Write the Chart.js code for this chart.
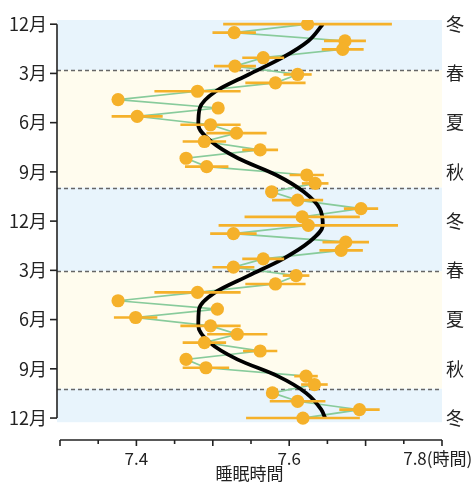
<!DOCTYPE html>
<html><head><meta charset="utf-8">
<script src="https://cdn.jsdelivr.net/npm/chart.js@4"></script>
<style>html,body{margin:0;padding:0;background:#fff}#wrap{width:473px;height:482px}canvas{display:block}</style>
</head><body>
<div id="wrap"><canvas id="c" width="473" height="482"></canvas></div>
<script>
// ---------- data ----------
const monthLabels  = ['12月','3月','6月','9月','12月','3月','6月','9月','12月'];
const seasonLabels = ['冬','春','夏','秋','冬','春','夏','秋','冬'];
// semi-monthly mean sleep time (hours), two consecutive years
const year1Sleep = [7.624,7.528,7.673,7.670,7.566,7.529,7.611,7.582,7.480,7.376,7.507,7.401,
                    7.497,7.531,7.489,7.562,7.465,7.492,7.623,7.634,7.577,7.611,7.694,7.617];
const year2Sleep = [7.625,7.527,7.674,7.668,7.566,7.527,7.609,7.582,7.480,7.376,7.506,7.399,
                    7.497,7.532,7.489,7.562,7.465,7.491,7.622,7.633,7.578,7.611,7.692,7.618];
const year1Err = [0.110,0.028,0.027,0.027,0.027,0.027,0.018,0.039,0.056,0.005,0.005,0.033,
                  0.039,0.039,0.028,0.023,0.005,0.028,0.022,0.017,0.005,0.033,0.022,0.075];
const year2Err = [0.117,0.030,0.030,0.028,0.027,0.027,0.017,0.039,0.056,0.005,0.005,0.028,
                  0.039,0.039,0.028,0.022,0.005,0.030,0.015,0.017,0.005,0.036,0.026,0.074];
// fitted seasonal curve, read at every second half-month slot
const curveSlot  = [0,2,4,6,8,10,12,14,16,18,20,22,24,26,28,30,32,34,36,38,40,42,44,46,47];
const curveSleep = [7.644,7.625,7.591,7.547,7.504,7.483,7.481,7.498,7.533,7.583,7.619,7.640,
                    7.644,7.626,7.592,7.547,7.503,7.482,7.481,7.496,7.532,7.585,7.622,7.642,7.647];
// season band edges (in half-month slots) and kinds
const seasonEdges = [-0.5,5.5,19.5,29.5,43.5,47.5];
const seasonKinds = ['cold','warm','cold','warm','cold'];
const xTickValues = [7.3,7.35,7.4,7.45,7.5,7.55,7.6,7.65,7.7,7.75,7.8];
const xTickLabels = ['','','7.4','','','','7.6','','','','7.8(時間)\u2002'];
const xMajor      = [7.3,7.4,7.5,7.6,7.7,7.8];

// ---------- derived ----------
const sleep = year1Sleep.concat(year2Sleep);
const err = year1Err.concat(year2Err);
const nSlots = sleep.length;            // 48
const lastSlot = nSlots - 1;            // 47
const tickPos = monthLabels.map((_, k) => k * lastSlot / (monthLabels.length - 1));

const ORANGE = '#f5b12a', GREEN = '#88cb9b', BLUE = '#e8f4fc', YELLOW = '#fffcee', INK = '#222';
const FONT = '"Noto Sans CJK JP", "Noto Sans", sans-serif';

const decor = {
  id: 'decor',
  beforeDatasetsDraw(chart) {
    const {ctx, chartArea: a, scales: {x, y}} = chart;
    ctx.save();
    for (let k = 0; k < seasonKinds.length; k++) {
      const y0 = y.getPixelForValue(seasonEdges[k]);
      const y1 = y.getPixelForValue(seasonEdges[k + 1]);
      ctx.fillStyle = seasonKinds[k] === 'cold' ? BLUE : YELLOW;
      ctx.fillRect(a.left, y0, a.right - a.left, y1 - y0);
    }
    ctx.strokeStyle = '#666';
    ctx.lineWidth = 1.5;
    ctx.setLineDash([4, 3]);
    for (let k = 1; k < seasonEdges.length - 1; k++) {
      const yy = Math.round(y.getPixelForValue(seasonEdges[k])) + 0.5;
      ctx.beginPath(); ctx.moveTo(a.left, yy); ctx.lineTo(a.right, yy); ctx.stroke();
    }
    ctx.restore();
  },
  afterDraw(chart) {
    const {ctx, chartArea: a, scales: {x, y}} = chart;
    ctx.save();
    ctx.strokeStyle = INK;
    ctx.lineWidth = 1.6;
    ctx.setLineDash([]);
    // y spine between first and last tick
    const lx = a.left;
    ctx.beginPath();
    ctx.moveTo(lx, y.getPixelForValue(tickPos[0]));
    ctx.lineTo(lx, y.getPixelForValue(tickPos[tickPos.length - 1]));
    ctx.stroke();
    tickPos.forEach(p => {
      const yy = y.getPixelForValue(p);
      ctx.beginPath(); ctx.moveTo(lx - 7, yy); ctx.lineTo(lx, yy); ctx.stroke();
    });
    // x spine
    const by = a.bottom;
    ctx.beginPath();
    ctx.moveTo(x.getPixelForValue(xTickValues[0]), by);
    ctx.lineTo(x.getPixelForValue(xTickValues[xTickValues.length - 1]), by);
    ctx.stroke();
    xTickValues.forEach(v => {
      const xx = x.getPixelForValue(v);
      const major = xMajor.some(m => Math.abs(m - v) < 1e-6);
      ctx.beginPath(); ctx.moveTo(xx, by); ctx.lineTo(xx, by + (major ? 6 : 4)); ctx.stroke();
    });
    ctx.restore();
  }
};

new Chart(document.getElementById('c'), {
  type: 'bar',
  data: {
    datasets: [
      {
        type: 'scatter',
        label: 'mean',
        data: sleep.map((v, i) => ({x: v, y: i})),
        showLine: false,
        pointRadius: 6.6,
        pointHoverRadius: 6.6,
        pointBackgroundColor: ORANGE,
        pointBorderWidth: 0,
        order: 0
      },
      {
        type: 'bar',
        label: 'err',
        data: sleep.map((v, i) => ({x: [v - err[i], v + err[i]], y: i})),
        backgroundColor: ORANGE,
        borderWidth: 0,
        barThickness: 2,
        grouped: false,
        order: 1
      },
      {
        type: 'line',
        label: 'fit',
        data: curveSlot.map((s, i) => ({x: curveSleep[i], y: s})),
        borderColor: '#000',
        borderWidth: 3.8,
        pointRadius: 0,
        cubicInterpolationMode: 'monotone',
        fill: false,
        order: 2
      },
      {
        type: 'line',
        label: 'trace',
        data: sleep.map((v, i) => ({x: v, y: i})),
        borderColor: GREEN,
        borderWidth: 1.7,
        pointRadius: 0,
        tension: 0,
        fill: false,
        order: 3
      }
    ]
  },
  options: {
    indexAxis: 'y',
    responsive: false,
    animation: false,
    events: [],
    layout: {padding: {top: 20, left: 0, right: 0, bottom: 0}},
    plugins: {legend: {display: false}, tooltip: {enabled: false}},
    scales: {
      x: {
        type: 'linear',
        position: 'bottom',
        min: 7.3 - 3 / 764,
        max: 7.8,
        grid: {display: false, drawTicks: false},
        border: {display: false},
        afterBuildTicks: s => { s.ticks = xTickValues.map(v => ({value: v})); },
        afterFit: s => { s.height = 42; s.paddingLeft = 0; s.paddingRight = 0; },
        ticks: {
          autoSkip: false, maxRotation: 0, padding: 8,
          color: INK, font: {family: FONT, size: 17},
          callback: (v, i) => xTickLabels[i]
        },
        title: {display: true, text: '睡眠時間', color: INK,
                font: {family: FONT, size: 17, lineHeight: 1}, padding: {top: 0, bottom: 0}}
      },
      y: {
        type: 'linear',
        position: 'left',
        reverse: true,
        offset: false,
        min: -0.5,
        max: 49.62,
        grid: {display: false, drawTicks: false},
        border: {display: false},
        afterBuildTicks: s => { s.ticks = tickPos.map(v => ({value: v})); },
        afterFit: s => { s.width = 57; s.paddingTop = 0; s.paddingBottom = 0; },
        ticks: {
          autoSkip: false, padding: 10,
          color: INK, font: {family: FONT, size: 18},
          callback: (v, i) => monthLabels[i]
        }
      },
      y2: {
        type: 'linear',
        position: 'right',
        reverse: true,
        offset: false,
        min: -0.5,
        max: 49.62,
        grid: {display: false, drawTicks: false},
        border: {display: false},
        afterBuildTicks: s => { s.ticks = tickPos.map(v => ({value: v})); },
        afterFit: s => { s.width = 31; s.paddingTop = 0; s.paddingBottom = 0; },
        ticks: {
          autoSkip: false, padding: 4,
          color: INK, font: {family: FONT, size: 18},
          callback: (v, i) => seasonLabels[i]
        }
      }
    }
  },
  plugins: [decor]
});
</script>
</body></html>
